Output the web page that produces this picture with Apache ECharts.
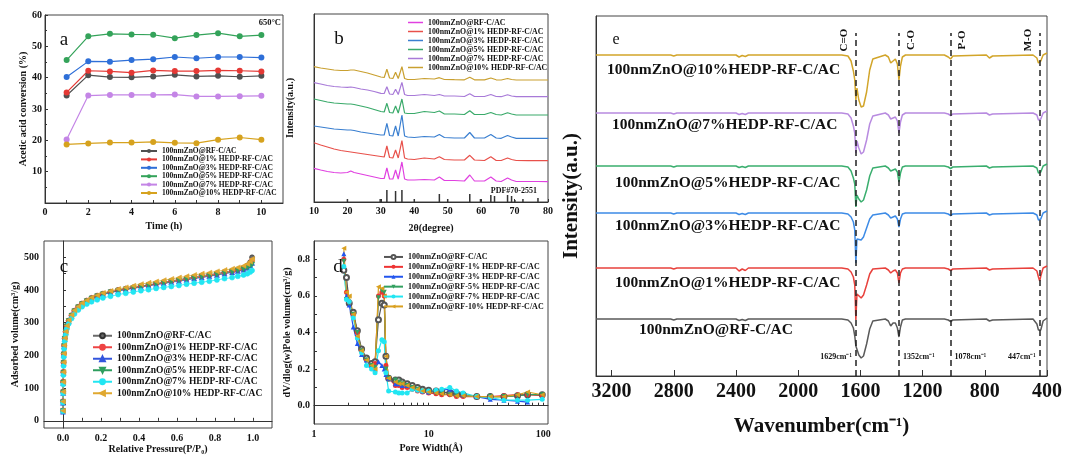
<!DOCTYPE html>
<html>
<head>
<meta charset="utf-8">
<script src="https://cdn.jsdelivr.net/npm/echarts@6/dist/echarts.min.js"></script>
<style>
  html, body { margin: 0; padding: 0; background: #fff; }
  #chart { width: 1065px; height: 456px; }
</style>
</head>
<body>
<div id="chart"></div>
<script>
const SERIF = '"Liberation Serif", "Times New Roman", serif'

// ---- a: acetic acid conversion vs time
const timeH = [1, 2, 3, 4, 5, 6, 7, 8, 9, 10]
const convRF = [34.3, 40.8, 40.2, 40.1, 40.4, 40.9, 40.4, 40.6, 40.3, 40.6]
const conv1 = [35.3, 42.2, 42.0, 41.6, 42.3, 42.1, 42.1, 42.3, 42.2, 42.0]
const conv3 = [40.2, 45.2, 45.1, 45.6, 45.9, 46.6, 46.2, 46.6, 46.6, 46.4]
const conv5 = [45.6, 53.2, 54.0, 53.8, 53.7, 52.6, 53.6, 54.2, 53.2, 53.6]
const conv7 = [20.3, 34.3, 34.5, 34.5, 34.5, 34.6, 34.0, 34.0, 34.1, 34.2]
const conv10 = [18.7, 19.0, 19.3, 19.3, 19.5, 19.2, 19.1, 20.2, 20.9, 20.2]
const namesA = ['100nmZnO@RF-C/AC', '100nmZnO@1% HEDP-RF-C/AC', '100nmZnO@3% HEDP-RF-C/AC',
  '100nmZnO@5% HEDP-RF-C/AC', '100nmZnO@7% HEDP-RF-C/AC', '100nmZnO@10% HEDP-RF-C/AC']

// ---- b: XRD (stacked, arbitrary units)
const twoTheta = [10, 12, 14, 16, 18, 20, 21, 22, 24, 26, 28, 30, 31, 31.8, 32.6, 33.6, 34.4, 35.2, 35.6, 36.3,
  37.1, 38, 40, 43, 46, 47.5, 49, 52, 55, 56.6, 58, 61, 62.9, 64.5, 66, 67.9, 69.1, 70.5, 74, 77, 80]
const xrdRF = [33.7, 32, 30.5, 29.5, 29, 29.5, 31, 29.5, 28, 26.5, 25, 23.5, 23.5, 34, 23, 23, 32, 23, 24, 40,
  23, 22, 22, 22.5, 22, 25, 21.5, 21.5, 21, 27, 21, 21, 25, 21, 20.5, 24, 22, 20.5, 20.5, 20.5, 20.3]
const xrd1 = [59.3, 57, 55, 53, 51.5, 50.5, 50, 49.5, 48.5, 47.5, 46.5, 45.5, 45, 56, 44.5, 44, 52, 44, 45, 61.3,
  44, 43, 42.5, 44, 43, 45.3, 42.5, 42, 42, 46.7, 42, 41.5, 45.3, 41.5, 41.5, 44, 42.5, 41.5, 41.3, 41.3, 41.3]
const xrd3 = [76, 75, 74, 73, 72.5, 72, 72, 71.5, 70, 69, 68, 67, 67, 78.7, 66.5, 66, 76, 66, 67, 87,
  66, 65, 64.5, 65.5, 65, 67.5, 64.5, 64, 64, 69.5, 64, 64, 67.5, 64, 63.7, 66.5, 65, 63.7, 63.7, 63.7, 63.7]
const xrd5 = [103, 101.5, 100, 99, 98.5, 98, 98, 97.5, 96, 94.5, 92.5, 90.5, 90, 98.7, 89.5, 89, 96, 89, 90, 103,
  89, 88.5, 88.5, 90.5, 89.5, 91, 88, 88, 87.5, 91.3, 87.5, 87.5, 89.5, 87.5, 87, 89.3, 88, 87, 87, 87, 87]
const xrd7 = [119.3, 118, 116.5, 115.5, 115, 114.7, 115, 114.5, 113, 112, 110.5, 108.7, 108.5, 115.3, 108, 107.5,
  112.7, 107.5, 108.5, 119.7, 107.5, 106.5, 106.5, 107.5, 106.5, 107.5, 106, 106, 105.5, 108.3, 105.5, 105.5,
  107.5, 105.5, 105.3, 107.3, 106, 105.3, 105.3, 105.3, 105.3]
const xrd10 = [135.3, 134, 133, 132, 131.5, 131.5, 132, 132, 130.5, 129, 127, 125, 124.5, 132.7, 124, 123.5,
  129.7, 123.5, 124.5, 135.3, 123.5, 122.5, 122.5, 123.5, 123, 124.3, 122.5, 122.3, 122.2, 124.7, 122.2, 122.2,
  124, 122.2, 122, 123.5, 122.5, 122, 122, 122, 122]
const pdfPos = [20.0, 29.8, 31.8, 34.4, 36.3, 40.0, 47.5, 50.0, 56.6, 59.8, 62.9, 64.0, 67.9, 69.1, 70.1, 72.5, 77.0]
const pdfInt = [3, 3, 12, 11, 12, 3, 8, 3, 8, 3, 7, 6, 7, 6, 2, 3, 4]

// ---- c: N2 isotherms
const relP = [0, 0, 0.001, 0.001, 0.002, 0.003, 0.004, 0.006, 0.009, 0.014, 0.02, 0.03, 0.045, 0.06, 0.08,
  0.1, 0.125, 0.15, 0.18, 0.21, 0.25, 0.29, 0.33, 0.37, 0.41, 0.45, 0.49, 0.53, 0.57, 0.61, 0.65, 0.69,
  0.73, 0.77, 0.81, 0.85, 0.89, 0.92, 0.95, 0.97, 0.985, 0.995]
const isoRF = [30, 58, 88, 118, 148, 178, 205, 230, 252, 272, 290, 306, 322, 336, 348, 358, 367, 375, 382, 388,
  394, 400, 404, 408, 412, 416, 420, 424, 428, 432, 436, 440, 444, 447, 451, 455, 459, 463, 468, 475, 485, 500]
const iso1 = [32, 60, 90, 120, 150, 180, 206, 231, 253, 273, 291, 307, 323, 337, 349, 359, 368, 376, 383, 389,
  395, 400, 404, 408, 412, 415, 419, 423, 427, 430, 434, 438, 442, 445, 449, 453, 457, 461, 466, 472, 480, 490]
const iso3 = [28, 55, 85, 115, 145, 175, 202, 228, 250, 270, 288, 304, 320, 334, 346, 356, 365, 373, 380, 386,
  392, 397, 401, 405, 409, 413, 416, 420, 424, 427, 431, 435, 438, 442, 446, 450, 454, 458, 462, 468, 475, 483]
const iso5 = [30, 57, 87, 117, 147, 177, 203, 229, 251, 271, 289, 305, 321, 335, 347, 357, 366, 374, 381, 387,
  393, 398, 402, 406, 410, 414, 418, 421, 425, 429, 432, 436, 440, 443, 447, 451, 455, 459, 463, 468, 474, 478]
const iso7 = [29, 56, 84, 112, 140, 168, 195, 220, 243, 263, 281, 297, 313, 327, 339, 349, 357, 364, 370, 376,
  381, 386, 390, 394, 398, 401, 405, 408, 411, 414, 418, 421, 424, 427, 431, 435, 438, 442, 446, 450, 455, 460]
const iso10 = [31, 59, 89, 119, 149, 179, 206, 231, 253, 273, 291, 308, 324, 338, 350, 360, 369, 377, 384, 391,
  397, 403, 408, 413, 418, 422, 426, 430, 434, 438, 442, 446, 450, 453, 457, 461, 465, 469, 474, 480, 487, 495]

// ---- d: pore size distribution
const poreW = [1.82, 1.92, 2.03, 2.2, 2.39, 2.6, 2.87, 3.18, 3.41, 3.65, 3.91, 4.1, 4.24, 4.48, 5.13, 5.5, 5.88,
  6.5, 7.2, 8, 8.85, 10, 11.6, 13, 15.3, 17.5, 20, 26.3, 34.5, 45.4, 59.6, 73, 98]
const poreRF = [0.74, 0.70, 0.56, 0.51, 0.41, 0.31, 0.26, 0.23, 0.24, 0.47, 0.56, 0.55, 0.27, 0.15, 0.14, 0.14,
  0.13, 0.12, 0.11, 0.10, 0.09, 0.085, 0.08, 0.075, 0.07, 0.065, 0.06, 0.05, 0.05, 0.05, 0.055, 0.06, 0.06]
const pore1 = [0.80, 0.62, 0.57, 0.50, 0.40, 0.30, 0.25, 0.22, 0.23, 0.60, 0.62, 0.60, 0.22, 0.15, 0.11, 0.11,
  0.10, 0.10, 0.09, 0.08, 0.075, 0.07, 0.065, 0.06, 0.06, 0.05, 0.05, 0.05, 0.05, 0.055, 0.06, 0.06, 0.055]
const pore3 = [0.83, 0.60, 0.55, 0.43, 0.34, 0.28, 0.25, 0.22, 0.20, 0.24, 0.22, 0.20, 0.17, 0.15, 0.12, 0.12,
  0.11, 0.11, 0.10, 0.09, 0.08, 0.075, 0.08, 0.085, 0.09, 0.07, 0.06, 0.05, 0.035, 0.03, 0.025, 0.02, null]
const pore5 = [0.79, 0.58, 0.56, 0.50, 0.40, 0.30, 0.25, 0.22, 0.21, 0.59, 0.63, 0.62, 0.20, 0.15, 0.14, 0.13,
  0.12, 0.11, 0.10, 0.09, 0.08, 0.075, 0.07, 0.065, 0.06, 0.055, 0.055, 0.05, 0.05, 0.05, 0.055, 0.06, 0.06]
const pore7 = [0.76, 0.58, 0.57, 0.48, 0.37, 0.29, 0.22, 0.20, 0.18, 0.30, 0.36, 0.35, 0.18, 0.08, 0.075, 0.07,
  0.07, 0.07, 0.09, 0.085, 0.08, 0.08, 0.085, 0.09, 0.10, 0.08, 0.07, 0.05, 0.045, 0.03, 0.03, 0.03, 0.035]
const pore10 = [0.86, 0.62, 0.60, 0.50, 0.38, 0.30, 0.25, 0.22, 0.20, 0.65, 0.64, 0.60, 0.27, 0.15, 0.13, 0.12,
  0.12, 0.11, 0.10, 0.09, 0.08, 0.075, 0.07, 0.065, 0.06, 0.055, 0.055, 0.05, 0.05, 0.05, 0.06, 0.075, 0.06]
const namesD = ['100nmZnO@RF-C/AC', '100nmZnO@RF-1% HEDP-RF-C/AC', '100nmZnO@RF-3% HEDP-RF-C/AC',
  '100nmZnO@RF-5% HEDP-RF-C/AC', '100nmZnO@RF-7% HEDP-RF-C/AC', '100nmZnO@RF-10% HEDP-RF-C/AC']

// ---- e: FTIR (stacked, arbitrary units)
const waveNum = [3300, 2820, 2800, 2780, 2400, 2380, 2360, 2340, 2320, 1720, 1680, 1660, 1645, 1636, 1629, 1622,
  1610, 1595, 1580, 1560, 1540, 1520, 1440, 1420, 1405, 1390, 1375, 1362, 1352, 1342, 1330, 1310, 1060, 1035,
  1020, 1005, 790, 770, 760, 750, 490, 465, 455, 447, 440, 425, 400]
const ftirRF = [57, 57, 56, 57, 57, 55.5, 56.5, 55.5, 57, 57, 56, 53, 48, 40, 30, 28, 21, 18, 20, 32, 47, 55, 57,
  55, 50, 53, 53, 48, 39, 49, 56, 57, 57, 56, 54.5, 56, 57, 55, 54, 56, 57, 52, 46, 48, 46, 55, 58]
const ftir1 = [108, 108, 107, 108, 108, 105, 107, 105.5, 108, 108, 107, 104, 99, 91, 56, 82, 80, 78, 81, 91, 102,
  107, 108, 106, 103, 105, 106, 103, 93, 103, 107, 108, 108, 107, 105.5, 107, 108, 106, 105, 107, 108, 105, 99,
  95, 100, 108, 110]
const ftir3 = [163, 163, 162, 163, 163, 161.5, 162.5, 161.5, 163, 163, 162, 159, 154, 146, 113, 137, 137, 136, 139,
  148, 157, 161, 163, 161, 158, 159, 160, 157, 149, 157, 162, 163, 163, 162, 160.5, 162, 163, 161, 160, 162, 163,
  161, 156, 155, 157, 163, 165]
const ftir5 = [210, 210, 209, 210, 210, 208.5, 209.5, 208.5, 210, 210, 209, 205, 198, 192, 169, 181, 177, 174, 176,
  186, 200, 208, 210, 208, 205, 206, 207, 204, 194, 203, 209, 210, 210, 209, 207.5, 209, 210, 208, 207, 209, 210,
  208, 203, 201, 204, 210, 212]
const ftir7 = [263, 263, 262, 263, 263, 261.5, 262.5, 261.5, 263, 263, 262, 258, 250, 243, 223, 235, 228, 222, 224,
  236, 252, 260, 263, 261, 257, 258, 259, 255, 243, 254, 261, 263, 263, 262, 260.5, 262, 263, 261, 260, 262, 263,
  261, 256, 254, 257, 263, 265]
const ftir10 = [321, 321, 320, 321, 321, 319, 320.5, 319.5, 321, 321, 320, 315, 305, 296, 276, 288, 276, 269, 270,
  284, 306, 317, 321, 319, 313, 315, 317, 312, 296, 310, 319, 321, 321, 319, 317, 320, 321, 318, 317, 320, 321,
  318, 313, 312, 315, 321, 323]
const namesE = ['100nmZnO@RF-C/AC', '100nmZnO@1%HEDP-RF-C/AC', '100nmZnO@3%HEDP-RF-C/AC',
  '100nmZnO@5%HEDP-RF-C/AC', '100nmZnO@7%HEDP-RF-C/AC', '100nmZnO@10%HEDP-RF-C/AC']
const bondPos = [1629, 1352, 1020, 447]
const bondNames = ['C=O', 'C-O', 'P-O', 'M-O']
const bondWaveLabels = ['1629cm⁻¹', '1352cm⁻¹', '1078cm⁻¹', '447cm⁻¹']
const dashTop = 343

const colorsA = ['#505050', '#e53935', '#2e6fd8', '#34a35a', '#c485e6', '#d6a21e']
const colorsB = ['#e040e0', '#e8504a', '#3a7fd0', '#3aaa6a', '#a87ad8', '#c9a030']
const colorsC = ['#6a6a6a', '#ee4444', '#3355dd', '#2e9e5e', '#22e6f2', '#e0a830']
const colorsD = ['#555555', '#ee3333', '#2255ee', '#33a060', '#22e6f2', '#d9a020']
const colorsE = ['#5a5a5a', '#e8413c', '#3d8be6', '#3aae6e', '#b88be0', '#d2a52a']
const shapes = ['circle', 'circle', 'triangle', 'triangle', 'circle', 'triangle']
const shapeRot = [0, 0, 0, 180, 0, 90]

const chart = echarts.init(document.getElementById('chart'))

const bold = (size) => ({ fontFamily: SERIF, fontWeight: 'bold', fontSize: size, color: '#111' })
const axLine = { lineStyle: { color: '#333', width: 1 } }
const tick = (extra) => Object.assign({ inside: true, length: 3, lineStyle: { color: '#333' } }, extra)
const grids = [
  { left: 45, top: 15, width: 238, height: 188 },
  { left: 314, top: 14, width: 234, height: 188 },
  { left: 44, top: 241, width: 228, height: 187 },
  { left: 314, top: 241, width: 234, height: 183 },
  { left: 596, top: 16, width: 454, height: 360 },
].map((g) => Object.assign({ show: true, borderColor: '#444', borderWidth: 1 }, g))

const zip = (xs, ys) => xs.map((x, i) => [x, ys[i]])
const strip = (n) => n.split('#')[0]

const convSets = [convRF, conv1, conv3, conv5, conv7, conv10]
const xrdSets = [xrdRF, xrd1, xrd3, xrd5, xrd7, xrd10]
const isoSets = [isoRF, iso1, iso3, iso5, iso7, iso10]
const poreSets = [poreRF, pore1, pore3, pore5, pore7, pore10]
const ftirSets = [ftirRF, ftir1, ftir3, ftir5, ftir7, ftir10]

const series = []
convSets.forEach((vals, i) => {
  series.push({
    type: 'line', name: namesA[i] + '#a', xAxisIndex: 0, yAxisIndex: 0,
    data: zip(timeH, vals), symbol: 'circle', symbolSize: 6,
    lineStyle: { width: 1.2, color: colorsA[i] }, itemStyle: { color: colorsA[i] },
  })
})
xrdSets.forEach((vals, i) => {
  series.push({
    type: 'line', name: namesA[i] + '#b', xAxisIndex: 1, yAxisIndex: 1,
    data: zip(twoTheta, vals), symbol: 'none',
    lineStyle: { width: 1.2, color: colorsB[i] }, itemStyle: { color: colorsB[i] },
  })
})
series.push({
  type: 'bar', xAxisIndex: 1, yAxisIndex: 1, data: zip(pdfPos, pdfInt),
  barWidth: 1.5, itemStyle: { color: '#333' }, silent: true,
})
isoSets.forEach((vals, i) => {
  series.push({
    type: 'line', name: namesA[i] + '#c', xAxisIndex: 2, yAxisIndex: 2,
    data: zip(relP, vals), symbol: shapes[i], symbolRotate: shapeRot[i], symbolSize: 5,
    lineStyle: { width: 0.8, color: colorsC[i] },
    itemStyle: { color: colorsC[i], borderColor: i === 0 ? '#333' : colorsC[i], borderWidth: 0.6 },
  })
})
poreSets.forEach((vals, i) => {
  series.push({
    type: 'line', name: namesD[i] + '#d', xAxisIndex: 3, yAxisIndex: 3,
    data: zip(poreW, vals), symbol: i === 0 ? 'emptyCircle' : shapes[i], symbolRotate: shapeRot[i],
    symbolSize: 5, lineStyle: { width: 1.2, color: colorsD[i] }, itemStyle: { color: colorsD[i] },
  })
})
ftirSets.forEach((vals, i) => {
  const s = {
    type: 'line', name: namesE[i] + '#e', xAxisIndex: 4, yAxisIndex: 4,
    data: zip(waveNum, vals), symbol: 'none',
    lineStyle: { width: 1.5, color: colorsE[i] },
  }
  if (i === 0) {
    s.markLine = {
      silent: true, symbol: 'none', label: { show: false },
      lineStyle: { color: '#222', type: [6, 4], width: 1.5 },
      data: bondPos.map((w) => [{ coord: [w, 0] }, { coord: [w, dashTop] }]),
    }
  }
  series.push(s)
})

const legendBase = {
  orient: 'vertical', padding: 0, selectedMode: false, formatter: strip, align: 'left',
}
const legends = [
  Object.assign({}, legendBase, { left: 140, top: 147, itemWidth: 16, itemHeight: 5, itemGap: 0.4,
    textStyle: Object.assign(bold(7.5), { lineHeight: 8 }), data: namesA.map((n) => n + '#a') }),
  Object.assign({}, legendBase, { left: 408, top: 18, itemWidth: 15, itemHeight: 1.5, itemGap: 0, icon: 'rect',
    textStyle: Object.assign(bold(7.8), { lineHeight: 9 }), data: namesA.map((n) => n + '#b') }),
  Object.assign({}, legendBase, { left: 92, top: 330, itemWidth: 19, itemHeight: 6, itemGap: 0,
    textStyle: Object.assign(bold(9.5), { lineHeight: 11.5 }), data: namesA.map((n) => n + '#c') }),
  Object.assign({}, legendBase, { left: 383, top: 252, itemWidth: 19, itemHeight: 5, itemGap: 0,
    textStyle: Object.assign(bold(8), { lineHeight: 9.9 }), data: namesD.map((n) => n + '#d') }),
]

const nameStyle = (size) => bold(size)
const xAxes = [
  { gridIndex: 0, type: 'value', min: 0, max: 11, name: 'Time (h)', nameGap: 18,
    axisLabel: Object.assign(bold(10), { customValues: [0, 2, 4, 6, 8, 10], margin: 4 }),
    axisTick: tick({ customValues: [0, 1, 2, 3, 4, 5, 6, 7, 8, 9, 10] }) },
  { gridIndex: 1, type: 'value', min: 10, max: 80, interval: 10, name: '2θ(degree)', nameGap: 21,
    axisLabel: Object.assign(bold(10), { margin: 4 }), axisTick: tick({}) },
  { gridIndex: 2, type: 'value', min: -0.1, max: 1.1, name: 'Relative Pressure(P/P₀)', nameGap: 16,
    axisLabel: Object.assign(bold(10), { customValues: [0, 0.2, 0.4, 0.6, 0.8, 1.0], margin: 5,
      formatter: (v) => v.toFixed(1) }),
    axisTick: tick({ customValues: [0, 0.1, 0.2, 0.3, 0.4, 0.5, 0.6, 0.7, 0.8, 0.9, 1.0] }) },
  { gridIndex: 3, type: 'log', logBase: 10, min: 1, max: 110, name: 'Pore Width(Å)', nameGap: 19,
    axisLabel: Object.assign(bold(10), { customValues: [1, 10, 100], margin: 5 }),
    axisTick: tick({ customValues: [1, 2, 3, 4, 5, 6, 7, 8, 9, 10, 20, 30, 40, 50, 60, 70, 80, 90, 100] }) },
  { gridIndex: 4, type: 'value', min: 400, max: 3300, inverse: true, name: 'Wavenumber(cm⁻¹)', nameGap: 40,
    axisLabel: Object.assign(bold(20), { customValues: [400, 800, 1200, 1600, 2000, 2400, 2800, 3200], margin: 6,
      formatter: (v) => String(v) }),
    axisTick: tick({ length: 6, customValues: [400, 800, 1200, 1600, 2000, 2400, 2800, 3200] }) },
].map((ax, i) => Object.assign({
  nameLocation: 'middle', nameTextStyle: nameStyle(i === 4 ? 21 : 10), axisLine: axLine,
  splitLine: { show: false },
}, ax))

const yAxes = [
  { gridIndex: 0, type: 'value', min: 0, max: 60, interval: 10, name: 'Acetic acid conversion (%)', nameGap: 13,
    axisLabel: Object.assign(bold(10), { showMinLabel: false, margin: 3 }), axisTick: tick({}),
    minorTick: { show: true, splitNumber: 2, length: 2, lineStyle: { color: '#333' } } },
  { gridIndex: 1, type: 'value', min: 0, max: 188, name: 'Intensity(a.u.)', nameGap: 19,
    axisLabel: { show: false }, axisTick: { show: false } },
  { gridIndex: 2, type: 'value', min: -22, max: 550, name: 'Adsorbed volume(cm³/g)', nameGap: 22,
    axisLabel: Object.assign(bold(10), { customValues: [0, 100, 200, 300, 400, 500], margin: 5 }),
    axisTick: tick({ customValues: [0, 50, 100, 150, 200, 250, 300, 350, 400, 450, 500] }) },
  { gridIndex: 3, type: 'value', min: -0.1, max: 0.9, name: 'dV/dlog(w)Pole volume(cm³/g)', nameGap: 22,
    axisLabel: Object.assign(bold(10), { customValues: [0, 0.2, 0.4, 0.6, 0.8], margin: 4,
      formatter: (v) => v.toFixed(1) }),
    axisTick: tick({ customValues: [0, 0.1, 0.2, 0.3, 0.4, 0.5, 0.6, 0.7, 0.8] }) },
  { gridIndex: 4, type: 'value', min: 0, max: 360, name: 'Intensity(a.u.)', nameGap: 14,
    axisLabel: { show: false }, axisTick: { show: false } },
].map((ax, i) => Object.assign({
  nameLocation: 'middle', nameTextStyle: nameStyle(i === 4 ? 21 : 10), axisLine: axLine,
  splitLine: { show: false },
}, ax))

const txt = (text, x, y, size, opts) => ({
  type: 'text', x, y, silent: true, z: 100,
  style: Object.assign({ text, fill: '#111', font: `${size}px ${SERIF}`, align: 'left', verticalAlign: 'middle' }, opts || {}),
})

chart.setOption({
  animation: false,
  backgroundColor: '#fff',
  grid: grids,
  xAxis: xAxes,
  yAxis: yAxes,
  legend: legends,
  series,
})

// free texts; e-panel labels placed from the wavenumber axis
const wx = (w) => chart.convertToPixel({ xAxisIndex: 4 }, w)
const graphics = [
  txt('a', 64, 40, 19, { align: 'center' }),
  txt('b', 339, 39, 19, { align: 'center' }),
  txt('c', 64, 267, 19, { align: 'center' }),
  txt('d', 338, 267, 19, { align: 'center' }),
  txt('e', 616, 40, 16, { align: 'center' }),
  txt('650°C', 281, 23, 8.5, { align: 'right', font: `bold 8.5px ${SERIF}` }),
  txt('PDF#70-2551', 537, 191, 8, { align: 'right', font: `bold 8px ${SERIF}` }),
]
const curveLabelPos = [[639, 330], [615, 283], [615, 226], [615, 183], [612, 125], [607, 70]]
namesE.forEach((n, i) => {
  graphics.push(txt(n, curveLabelPos[i][0], curveLabelPos[i][1], 15.5, { font: `bold 15.5px ${SERIF}` }))
})
const bondSide = [-1, 1, 1, -1]
const waveSide = [-1, 1, 1, -1]
bondPos.forEach((w, i) => {
  const x = wx(w)
  graphics.push({
    type: 'text', x: x + bondSide[i] * 12, y: 40, rotation: Math.PI / 2, silent: true, z: 100,
    style: { text: bondNames[i], font: `bold 11px ${SERIF}`, fill: '#111', align: 'center', verticalAlign: 'middle' },
  })
  graphics.push(txt(bondWaveLabels[i], x + waveSide[i] * 4, 357, 8,
    { font: `bold 8px ${SERIF}`, align: waveSide[i] < 0 ? 'right' : 'left' }))
})
chart.setOption({ graphic: graphics })
</script>
</body>
</html>
